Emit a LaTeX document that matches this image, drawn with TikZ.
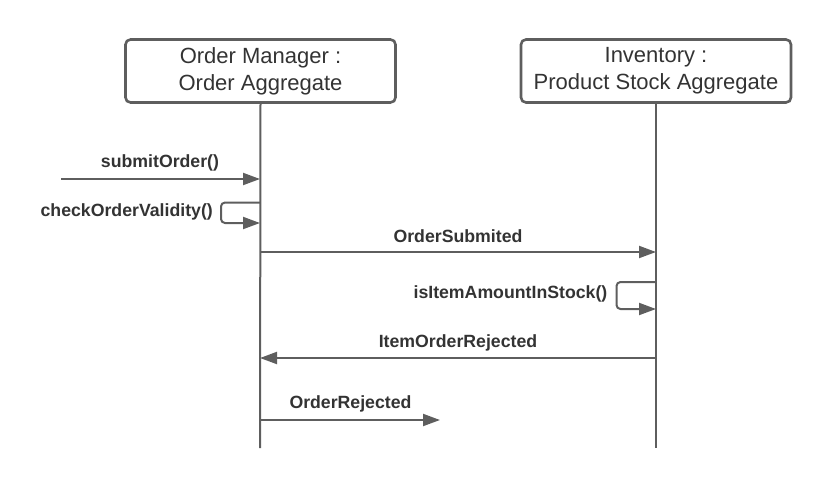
\documentclass[tikz,border=0pt]{standalone}
\usepackage{fontspec}
\setmainfont{Liberation Sans}
\usetikzlibrary{arrows.meta}
\definecolor{ln}{HTML}{5E5E5E}
\definecolor{tx}{HTML}{333333}
\begin{document}
\begin{tikzpicture}[x=1pt,y=-1pt,
  actor/.style={draw=ln,line width=2.6pt,rounded corners=5pt,minimum width=270pt,minimum height=63pt,
    align=center,text=tx,font=\fontsize{22}{27}\selectfont,inner sep=0pt},
  life/.style={draw=ln,line width=2pt},
  msg/.style={draw=ln,line width=2pt,-{Triangle[length=17pt,width=12pt]}},
  lbl/.style={text=tx,font=\bfseries\fontsize{17.7}{20}\selectfont,inner sep=0pt}]
\useasboundingbox (0,0) rectangle (831,477);
\node[actor] (om) at (260.5,71) {Order Manager :\\Order Aggregate};
\node[actor] (inv) at (656,71) {Inventory :\\Product Stock Aggregate};
\coordinate (omEnd) at (260,448);
\coordinate (invEnd) at (656,448);
\draw[life] (om.south) -- (omEnd);
\draw[life] (inv.south) -- (invEnd);
% submitOrder
\coordinate (s0) at (61,179);
\coordinate (s1) at (260,179);
\draw[msg] (s0) -- (s1);
\node[lbl] (l1) at (160,162.5) {submitOrder()};
% checkOrderValidity
\coordinate (c0) at (260,202.5);
\coordinate (c1) at (260,223);
\draw[msg,rounded corners=4pt] (c0) -- (221,202.5) -- (221,223) -- (c1);
\node[lbl,anchor=east] (l2) at (213,211.5) {checkOrderValidity()};
% OrderSubmited
\coordinate (o0) at (260,252);
\coordinate (o1) at (656,252);
\draw[msg] (o0) -- (o1);
\node[lbl] (l3) at (458,236.5) {OrderSubmited};
% isItemAmountInStock
\coordinate (i0) at (656,282);
\coordinate (i1) at (656,309);
\draw[msg,rounded corners=4pt] (i0) -- (616.5,282) -- (616.5,309) -- (i1);
\node[lbl,anchor=east] (l4) at (607.5,293.5) {isItemAmountInStock()};
% ItemOrderRejected
\coordinate (r0) at (656,358);
\coordinate (r1) at (260,358);
\draw[msg] (r0) -- (r1);
\node[lbl] (l5) at (458,342.5) {ItemOrderRejected};
% OrderRejected
\coordinate (q0) at (260,420);
\coordinate (q1) at (440,420);
\draw[msg] (q0) -- (q1);
\node[lbl] (l6) at (350.5,403.5) {OrderRejected};
\end{tikzpicture}
\end{document}
